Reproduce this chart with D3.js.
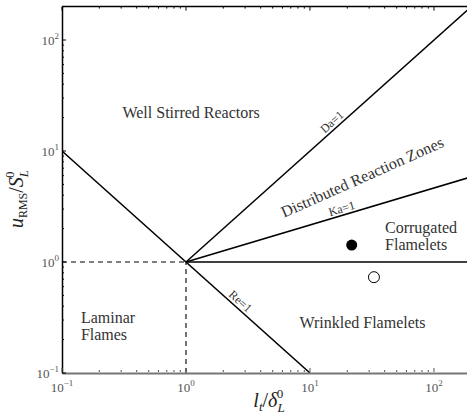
<!DOCTYPE html>
<html><head><meta charset="utf-8">
<script src="https://cdn.jsdelivr.net/npm/d3@7"></script>
<style>
body{margin:0;background:#fff;}
svg{display:block;}
</style></head>
<body><svg id="c" width="467" height="417" font-family="Liberation Serif"></svg>
<script>
// Data
const xDomain = [0.1, 200];
const yDomain = [0.1, 200];
const majorTicks = [0.1, 1, 10, 100];
const tickExponents = ["−1", "0", "1", "2"];
// Regime boundary lines (l_t/δ, u/S)
const reLine = [[0.1, 10], [10, 0.1]];          // Re = 1
const daLine = [[1, 1], [200, 200]];            // Da = 1
const kaLine = [[1, 1], [200, 5.85]];           // Ka = 1
const flameletLine = [[1, 1], [200, 1]];        // u' = S_L
const dashedH = [[0.1, 1], [1, 1]];
const dashedV = [[1, 0.1], [1, 1]];
// Operating points
const filledPoints = [[21.7, 1.42]];
const openPoints = [[32.8, 0.73]];
// Region labels
const regionLabels = [
  {text: ["Well Stirred Reactors"], x: 1.1, y: 19.8, anchor: "middle", rot: 0},
  {text: ["Corrugated", "Flamelets"], x: 40.3, y: 1.82, anchor: "start", rot: 0},
  {text: ["Wrinkled Flamelets"], x: 26.5, y: 0.254, anchor: "middle", rot: 0},
  {text: ["Laminar", "Flames"], x: 0.142, y: 0.28, anchor: "start", rot: 0},
  {text: ["Distributed Reaction Zones"], x: 27.5, y: 5.25, anchor: "middle", rot: -24}
];
const lineLabels = [
  {text: "Da=1", x: 15.8, y: 17.2, rot: -41.8},
  {text: "Ka=1", x: 18.4, y: 2.8, rot: -16.6},
  {text: "Re=1", x: 2.61, y: 0.416, rot: 41.8}
];

const svg = d3.select("#c");
const L = 62, R = 471.3, T = 6.6, B = 373;
const x = d3.scaleLog().domain(xDomain).range([L, R]);
const y = d3.scaleLog().domain(yDomain).range([B, T]);

svg.append("clipPath").attr("id","pc").append("rect")
  .attr("x", L).attr("y", T).attr("width", R - L).attr("height", B - T);
const g = svg.append("g").attr("clip-path", "url(#pc)");
const line = d3.line().x(d => x(d[0])).y(d => y(d[1]));

[reLine, daLine, kaLine, flameletLine].forEach(d =>
  g.append("path").attr("d", line(d)).attr("fill","none").attr("stroke","#000").attr("stroke-width",1.5));
[dashedH, dashedV].forEach(d =>
  g.append("path").attr("d", line(d)).attr("fill","none").attr("stroke","#000").attr("stroke-width",1.1).attr("stroke-dasharray","5,4"));

g.selectAll(".fp").data(filledPoints).join("circle")
  .attr("cx", d => x(d[0])).attr("cy", d => y(d[1])).attr("r", 5.5).attr("fill","#000");
g.selectAll(".op").data(openPoints).join("circle")
  .attr("cx", d => x(d[0])).attr("cy", d => y(d[1])).attr("r", 5.5).attr("fill","#fff").attr("stroke","#000").attr("stroke-width",1);

// Region labels
regionLabels.forEach(r => {
  const t = svg.append("text").attr("fill","#333").attr("font-size", 16)
    .attr("text-anchor", r.anchor)
    .attr("transform", `translate(${x(r.x)},${y(r.y)}) rotate(${r.rot})`);
  r.text.forEach((s, i) => t.append("tspan").attr("x", 0).attr("dy", i === 0 ? 0 : 16.5).text(s));
});
lineLabels.forEach(r => {
  svg.append("text").attr("fill","#333").attr("font-size", 12).attr("text-anchor","middle")
    .attr("transform", `translate(${x(r.x)},${y(r.y)}) rotate(${r.rot})`).text(r.text);
});

// Minor tick values
const minor = [];
[0.1, 1, 10, 100].forEach(b => { for (let k = 2; k <= 9; k++) minor.push(b * k); });

// Axes
const xAxis = d3.axisBottom(x).tickValues(majorTicks).tickSize(0).tickFormat("");
const gx = svg.append("g").attr("transform", `translate(0,${B})`).call(xAxis);
gx.select(".domain").attr("stroke","#777").attr("stroke-width",2);
const yAxis = d3.axisLeft(y).tickValues(majorTicks).tickSize(0).tickFormat("");
const gy = svg.append("g").attr("transform", `translate(${L},0)`).call(yAxis);
gy.select(".domain").attr("stroke","#000").attr("stroke-width",1.5);
// top border
svg.append("line").attr("x1", L).attr("x2", 467).attr("y1", T).attr("y2", T).attr("stroke","#000").attr("stroke-width",1.5);

// Inward tick marks
const tk = svg.append("g").attr("stroke","#000").attr("stroke-width",1);
majorTicks.concat(minor).filter(v => v <= xDomain[1]).forEach(v => {
  const len = majorTicks.includes(v) ? 4 : 2;
  tk.append("line").attr("x1", x(v)).attr("x2", x(v)).attr("y1", B - 1).attr("y2", B - 1 - len).attr("stroke","#555");
  tk.append("line").attr("x1", x(v)).attr("x2", x(v)).attr("y1", T).attr("y2", T + len);
});
majorTicks.concat(minor).filter(v => v <= yDomain[1]).forEach(v => {
  const len = majorTicks.includes(v) ? 4 : 2;
  tk.append("line").attr("x1", L).attr("x2", L + len).attr("y1", y(v)).attr("y2", y(v));
});

// Tick labels
majorTicks.forEach((v, i) => {
  const tx = svg.append("text").attr("fill","#555").attr("font-size", 13).attr("text-anchor","middle")
    .attr("x", x(v)).attr("y", B + 19);
  tx.append("tspan").text("10");
  tx.append("tspan").attr("font-size", 9).attr("dy", -6).text(tickExponents[i]);
  const ty = svg.append("text").attr("fill","#555").attr("font-size", 13).attr("text-anchor","end")
    .attr("x", L - 3).attr("y", y(v) + 5);
  ty.append("tspan").text("10");
  ty.append("tspan").attr("font-size", 9).attr("dy", -6).text(tickExponents[i]);
});

// Axis titles
const xt = svg.append("text").attr("font-size", 20).attr("fill","#222").attr("text-anchor","middle")
  .attr("x", 269).attr("y", 407);
xt.append("tspan").attr("font-style","italic").text("l");
xt.append("tspan").attr("font-style","italic").attr("font-size",13).attr("dy",4).text("t");
xt.append("tspan").attr("dy",-4).text("/");
xt.append("tspan").attr("font-style","italic").text("δ");
xt.append("tspan").attr("font-style","italic").attr("font-size",13).attr("dy",5).text("L");
xt.append("tspan").attr("font-size",13).attr("dx",-8).attr("dy",-14).text("0");

const yt = svg.append("text").attr("font-size", 20).attr("fill","#222").attr("text-anchor","middle")
  .attr("transform", "translate(23,199) rotate(-90)");
yt.append("tspan").attr("font-style","italic").text("u");
yt.append("tspan").attr("font-size",12).attr("dy",4).text("RMS");
yt.append("tspan").attr("dy",-4).text("/");
yt.append("tspan").attr("font-style","italic").text("S");
yt.append("tspan").attr("font-style","italic").attr("font-size",13).attr("dy",5).text("L");
yt.append("tspan").attr("font-size",13).attr("dx",-8).attr("dy",-14).text("0");
</script></body></html>
